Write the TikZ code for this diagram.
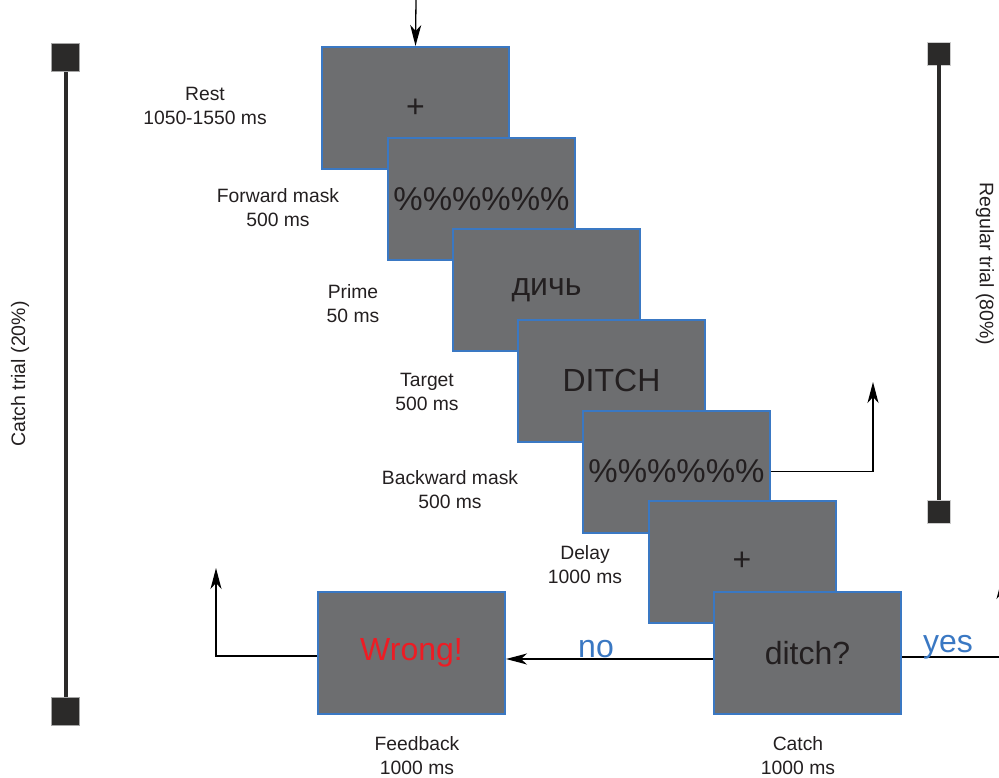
\documentclass[tikz,border=0pt]{standalone}
\usepackage{fontspec}
\setmainfont{Liberation Sans}
\usetikzlibrary{arrows.meta,calc}
\definecolor{boxgray}{HTML}{6D6E70}
\definecolor{boxblue}{HTML}{3A78C3}
\definecolor{txtdark}{HTML}{231F20}
\definecolor{bardark}{HTML}{2B2A29}
\definecolor{wrongred}{HTML}{ED1C24}
\tikzset{
  x=1pt,y=-1pt,
  scr/.style={draw=boxblue,line width=2pt,fill=boxgray,minimum width=187pt,minimum height=122pt,inner sep=0pt,text=txtdark,font=\fontsize{32}{36}\selectfont},
  pct/.style={font=\fontsize{33}{38}\selectfont},
  lbl/.style={align=center,text=txtdark,font=\fontsize{19.3}{24}\selectfont},
  arr/.style={draw=black,line width=1.3pt,-{Stealth[length=21pt,width=11pt,inset=6pt]}},
  bar/.style={draw=bardark,line width=4pt},
  sqbig/.style={fill=bardark,draw=gray!70,line width=0.6pt,minimum size=28pt,inner sep=0pt},
  sqsmall/.style={fill=bardark,draw=gray!40,line width=0.6pt,minimum size=23pt,inner sep=0pt},
  ans/.style={text=boxblue,font=\fontsize{32}{36}\selectfont},
}
\begin{document}
\begin{tikzpicture}
\useasboundingbox (0,0) rectangle (999,778);
% side bars
\node[sqbig] (lt) at (65.5,57.5) {};
\node[sqbig] (lb) at (65.5,711.5) {};
\draw[bar] (lt.south) -- (lb.north);
\node[sqsmall] (rt) at (938.5,53.5) {};
\node[sqsmall] (rb) at (938.5,511.5) {};
\draw[bar] (rt.south) -- (rb.north);
\node[rotate=90,text=txtdark,font=\fontsize{19.5}{24}\selectfont] (ct) at (20,374) {Catch trial (20\%)};
\node[rotate=-90,text=txtdark,font=\fontsize{19.5}{24}\selectfont] (rg) at (985,264) {Regular trial (80\%)};
% screens
\node[scr] (b1) at (415.5,108) {+};
\node[scr,pct] (b2) at (481.5,199) {\%\%\%\%\%\%};
\node[scr] (b3) at (546.5,290) {дичь};
\node[scr] (b4) at (611.5,380.5) {DITCH};
\node[scr,pct] (b5) at (676.5,471.5) {\%\%\%\%\%\%};
\node[scr] (b6) at (742,561.5) {+};
\node[scr] (catch) at (807.5,653) {ditch?};
\node[scr] (fb) at (411.5,653) {\textcolor{wrongred}{Wrong!}};
% labels
\node[lbl] (l1) at (205,105.5) {Rest\\1050-1550 ms};
\node[lbl] (l2) at (278,207.5) {Forward mask\\500 ms};
\node[lbl] (l3) at (353,304) {Prime\\50 ms};
\node[lbl] (l4) at (427,392) {Target\\500 ms};
\node[lbl] (l5) at (450,490) {Backward mask\\500 ms};
\node[lbl] (l6) at (585,565) {Delay\\1000 ms};
\node[lbl] (l7) at (417,756) {Feedback\\1000 ms};
\node[lbl] (l8) at (798,756) {Catch\\1000 ms};
% connectors
\coordinate (top) at (416,0);
\draw[arr] (top) -- (b1.north);
\coordinate (c1) at (873,382);
\draw[arr] (b5.east) -| (c1);
\coordinate (c2) at (216,568);
\draw[arr] ($(fb.west)+(0,3)$) -| (c2);
\draw[arr] ($(catch.west)+(0,6)$) -- ($(fb.east)+(0,6)$);
\node[ans] (no) at (596,649) {no};
\coordinate (c3) at (1002,578);
\draw[arr] ($(catch.east)+(0,4)$) -| (c3);
\node[ans] (yes) at (948,647) {yes};
\end{tikzpicture}
\end{document}
